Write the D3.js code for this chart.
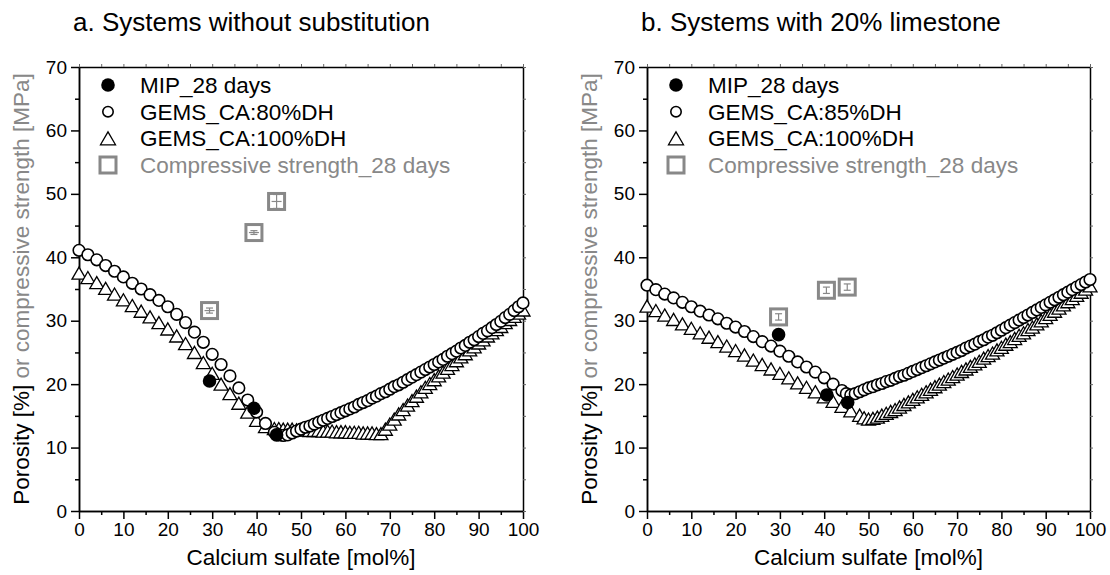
<!DOCTYPE html>
<html>
<head>
<meta charset="utf-8">
<title>Porosity and compressive strength vs calcium sulfate</title>
<script src="https://d3js.org/d3.v7.min.js"></script>
<style>
  body { margin: 0; background: #fff; }
  svg { font-family: "Liberation Sans", Arial, Helvetica, sans-serif; }
</style>
</head>
<body>
<div id="chart"></div>
<script>
// ---- data ----
const xMajorTicks = [0, 10, 20, 30, 40, 50, 60, 70, 80, 90, 100]
const xMinorTicks = [5, 15, 25, 35, 45, 55, 65, 75, 85, 95]
const yMajorTicks = [0, 10, 20, 30, 40, 50, 60, 70]
const yMinorTicks = [5, 15, 25, 35, 45, 55, 65]

const legendLabelsA = ['MIP_28 days', 'GEMS_CA:80%DH', 'GEMS_CA:100%DH', 'Compressive strength_28 days']
const legendLabelsB = ['MIP_28 days', 'GEMS_CA:85%DH', 'GEMS_CA:100%DH', 'Compressive strength_28 days']

// panel a: systems without substitution
const aMip = [[29.4, 20.5], [39.4, 16.2], [44.5, 12.0]]
const aStrength = [[29.4, 31.6], [39.4, 43.9], [44.5, 48.8]]
const aStrengthErr = [0.4, 0.3, 1.1]
const aCircles = [
  [0, 41.1], [2, 40.4], [4, 39.6], [6, 38.7], [8, 37.8], [10, 36.9], [12, 35.9], [14, 35.0],
  [16, 34.1], [18, 33.2], [20, 32.2], [22, 31.0], [24, 29.7], [26, 28.2], [28, 26.6], [30, 24.7],
  [32, 23.1], [34, 21.3], [36, 19.4], [38, 17.5], [40, 15.6], [42, 13.8], [44, 12.4],
  [45, 12.0], [46, 11.9], [47, 12.0], [48, 12.3], [49, 12.6], [50, 12.9], [51, 13.2], [52, 13.4],
  [53, 13.7], [54, 14.0], [55, 14.3], [56, 14.6], [57, 14.9], [58, 15.2], [59, 15.5], [60, 15.8],
  [61, 16.1], [62, 16.4], [63, 16.8], [64, 17.1], [65, 17.4], [66, 17.8], [67, 18.1], [68, 18.5],
  [69, 18.8], [70, 19.2], [71, 19.6], [72, 19.9], [73, 20.3], [74, 20.7], [75, 21.1], [76, 21.5],
  [77, 21.9], [78, 22.3], [79, 22.7], [80, 23.1], [81, 23.5], [82, 23.9], [83, 24.4], [84, 24.8],
  [85, 25.2], [86, 25.7], [87, 26.1], [88, 26.6], [89, 27.0], [90, 27.5], [91, 28.0], [92, 28.4],
  [93, 28.9], [94, 29.4], [95, 29.9], [96, 30.5], [97, 31.0], [98, 31.6], [99, 32.2], [100, 32.8]
]
const aTriangles = [
  [0, 37.5], [2, 36.8], [4, 36.0], [6, 35.1], [8, 34.2], [10, 33.3], [12, 32.4], [14, 31.5],
  [16, 30.6], [18, 29.7], [20, 28.7], [22, 27.6], [24, 26.4], [26, 25.0], [28, 23.4], [30, 21.7],
  [32, 20.0], [34, 18.5], [36, 17.0], [38, 15.6], [40, 14.3], [42, 13.3],
  [44, 13.0], [45, 13.0], [46, 12.9], [47, 12.9], [48, 12.9], [49, 12.8], [50, 12.8], [51, 12.8],
  [52, 12.7], [53, 12.7], [54, 12.7], [55, 12.6], [56, 12.6], [57, 12.6], [58, 12.5], [59, 12.5],
  [60, 12.5], [61, 12.4], [62, 12.4], [63, 12.4], [64, 12.3], [65, 12.3], [66, 12.3], [67, 12.2],
  [68, 12.2], [69, 12.9], [70, 13.7], [71, 14.5], [72, 15.3], [73, 16.0], [74, 16.7], [75, 17.4],
  [76, 18.1], [77, 18.8], [78, 19.5], [79, 20.1], [80, 20.7], [81, 21.3], [82, 21.9], [83, 22.5],
  [84, 23.1], [85, 23.7], [86, 24.3], [87, 24.8], [88, 25.4], [89, 25.9], [90, 26.5], [91, 27.0],
  [92, 27.6], [93, 28.1], [94, 28.6], [95, 29.1], [96, 29.7], [97, 30.2], [98, 30.7], [99, 31.2],
  [100, 31.7]
]

// panel b: systems with 20% limestone
const bMip = [[29.7, 27.8], [40.6, 18.3], [45.3, 17.1]]
const bStrength = [[29.7, 30.6], [40.5, 34.8], [45.2, 35.3]]
const bStrengthErr = [0.5, 0.5, 0.5]
const bCircles = [
  [0, 35.6], [2, 34.9], [4, 34.2], [6, 33.6], [8, 32.9], [10, 32.2], [12, 31.5], [14, 30.9],
  [16, 30.3], [18, 29.6], [20, 29.0], [22, 28.3], [24, 27.5], [26, 26.7], [28, 26.0], [30, 25.2],
  [32, 24.4], [34, 23.5], [36, 22.7], [38, 21.9], [40, 21.0], [42, 20.0], [44, 19.0],
  [45, 18.5], [46, 18.3], [47, 18.5], [48, 18.8], [49, 19.1], [50, 19.4], [51, 19.6], [52, 19.9],
  [53, 20.1], [54, 20.4], [55, 20.6], [56, 20.9], [57, 21.2], [58, 21.4], [59, 21.7], [60, 22.0],
  [61, 22.3], [62, 22.6], [63, 22.9], [64, 23.2], [65, 23.5], [66, 23.8], [67, 24.1], [68, 24.4],
  [69, 24.7], [70, 25.0], [71, 25.3], [72, 25.7], [73, 26.0], [74, 26.3], [75, 26.7], [76, 27.0],
  [77, 27.4], [78, 27.7], [79, 28.1], [80, 28.5], [81, 28.9], [82, 29.3], [83, 29.7], [84, 30.1],
  [85, 30.5], [86, 30.9], [87, 31.3], [88, 31.7], [89, 32.1], [90, 32.5], [91, 32.9], [92, 33.3],
  [93, 33.7], [94, 34.1], [95, 34.5], [96, 34.9], [97, 35.3], [98, 35.7], [99, 36.1], [100, 36.5]
]
const bTriangles = [
  [0, 32.3], [2, 31.6], [4, 30.9], [6, 30.2], [8, 29.5], [10, 28.8], [12, 28.1], [14, 27.4],
  [16, 26.7], [18, 26.0], [20, 25.3], [22, 24.6], [24, 23.8], [26, 23.1], [28, 22.4], [30, 21.7],
  [32, 21.0], [34, 20.2], [36, 19.5], [38, 18.8], [40, 18.0], [42, 17.3], [44, 16.5], [46, 15.8],
  [48, 15.1], [49, 14.7], [50, 14.5], [51, 14.6], [52, 14.8], [53, 15.1], [54, 15.4], [55, 15.7],
  [56, 16.0], [57, 16.4], [58, 16.8], [59, 17.2], [60, 17.6], [61, 18.0], [62, 18.4], [63, 18.8],
  [64, 19.2], [65, 19.6], [66, 20.0], [67, 20.4], [68, 20.8], [69, 21.2], [70, 21.6], [71, 22.0],
  [72, 22.4], [73, 22.8], [74, 23.2], [75, 23.6], [76, 24.1], [77, 24.5], [78, 24.9], [79, 25.4],
  [80, 25.8], [81, 26.3], [82, 26.7], [83, 27.2], [84, 27.7], [85, 28.1], [86, 28.6], [87, 29.0],
  [88, 29.5], [89, 30.0], [90, 30.5], [91, 31.0], [92, 31.5], [93, 32.0], [94, 32.5], [95, 33.0],
  [96, 33.5], [97, 34.0], [98, 34.5], [99, 35.0], [100, 35.5]
]

// ---- layout ----
const WIDTH = 1110
const HEIGHT = 575
const PLOT_TOP = 67
const PLOT_BOTTOM = 511
const GRAY = '#888888'

const panels = [
  { left: 79, right: 523, title: 'a. Systems without substitution', legend: legendLabelsA,
    mip: aMip, strength: aStrength, strengthErr: aStrengthErr, circles: aCircles, triangles: aTriangles, centerLine: true },
  { left: 647, right: 1090, title: 'b. Systems with 20% limestone', legend: legendLabelsB,
    mip: bMip, strength: bStrength, strengthErr: bStrengthErr, circles: bCircles, triangles: bTriangles, centerLine: false }
]

const svg = d3.select('#chart').append('svg')
  .attr('width', WIDTH)
  .attr('height', HEIGHT)

svg.append('rect').attr('width', WIDTH).attr('height', HEIGHT).attr('fill', '#fff')

panels.forEach(drawPanel)

function trianglePath(cx, cy, s) {
  const h = s * 0.866
  return `M${cx},${cy - h / 2}L${cx + s / 2},${cy + h / 2}L${cx - s / 2},${cy + h / 2}Z`
}

function styleAxis(g) {
  g.select('.domain').attr('stroke', '#000').attr('stroke-width', 1.5)
  g.selectAll('.tick line').attr('stroke', '#000').attr('stroke-width', 1.5)
  g.selectAll('.tick text').attr('fill', '#000').style('font-size', '19px')
}

function drawPanel(p) {
  const x = d3.scaleLinear().domain([0, 100]).range([p.left, p.right])
  const y = d3.scaleLinear().domain([0, 70]).range([PLOT_BOTTOM, PLOT_TOP])
  const g = svg.append('g')

  // bottom axis
  g.append('g').attr('transform', `translate(0,${PLOT_BOTTOM})`)
    .call(d3.axisBottom(x).tickValues(xMinorTicks).tickSize(4).tickSizeOuter(0).tickFormat(''))
    .call(styleAxis)
  g.append('g').attr('transform', `translate(0,${PLOT_BOTTOM})`)
    .call(d3.axisBottom(x).tickValues(xMajorTicks).tickSize(8).tickSizeOuter(0).tickPadding(4).tickFormat(d3.format('d')))
    .call(styleAxis)

  // left axis
  g.append('g').attr('transform', `translate(${p.left},0)`)
    .call(d3.axisLeft(y).tickValues(yMinorTicks).tickSize(4).tickSizeOuter(0).tickFormat(''))
    .call(styleAxis)
  g.append('g').attr('transform', `translate(${p.left},0)`)
    .call(d3.axisLeft(y).tickValues(yMajorTicks).tickSize(8).tickSizeOuter(0).tickPadding(4).tickFormat(d3.format('d')))
    .call(styleAxis)

  // top and right mirror axes, small outward ticks
  g.append('g').attr('transform', `translate(0,${PLOT_TOP})`)
    .call(d3.axisTop(x).tickValues(xMajorTicks.concat(xMinorTicks)).tickSize(3).tickSizeOuter(0).tickFormat(''))
    .call(styleAxis)
    .call(a => a.selectAll('.tick line').attr('stroke-width', 1).attr('stroke', '#666'))
  g.append('g').attr('transform', `translate(${p.right},0)`)
    .call(d3.axisRight(y).tickValues(yMajorTicks.concat(yMinorTicks)).tickSize(3).tickSizeOuter(0).tickFormat(''))
    .call(styleAxis)
    .call(a => a.selectAll('.tick line').attr('stroke-width', 1).attr('stroke', '#666'))

  // title
  g.append('text')
    .attr('x', p.left - 6)
    .attr('y', 31)
    .style('font-size', '26px')
    .attr('fill', '#000')
    .text(p.title)

  // axis titles
  g.append('text')
    .attr('x', (p.left + p.right) / 2)
    .attr('y', 565)
    .attr('text-anchor', 'middle')
    .style('font-size', '22.5px')
    .attr('fill', '#000')
    .text('Calcium sulfate [mol%]')

  const yLabel = g.append('text')
    .attr('transform', `translate(${p.left - 50},${(PLOT_TOP + PLOT_BOTTOM) / 2}) rotate(-90)`)
    .attr('text-anchor', 'middle')
    .style('font-size', '22.5px')
  yLabel.append('tspan').attr('fill', '#000').text('Porosity [%]')
  yLabel.append('tspan').attr('fill', GRAY).text(' or compressive strength [MPa]')

  // GEMS 100%DH triangles
  g.append('g').selectAll('path')
    .data(p.triangles)
    .join('path')
    .attr('d', d => trianglePath(x(d[0]), y(d[1]), 14))
    .attr('fill', '#fff')
    .attr('stroke', '#000')
    .attr('stroke-width', 1.3)

  // GEMS partial DH circles
  g.append('g').selectAll('circle')
    .data(p.circles)
    .join('circle')
    .attr('cx', d => x(d[0]))
    .attr('cy', d => y(d[1]))
    .attr('r', 5.8)
    .attr('fill', '#fff')
    .attr('stroke', '#000')
    .attr('stroke-width', 1.6)

  // MIP
  g.append('g').selectAll('circle')
    .data(p.mip)
    .join('circle')
    .attr('cx', d => x(d[0]))
    .attr('cy', d => y(d[1]))
    .attr('r', 6.8)
    .attr('fill', '#000')

  // compressive strength squares with error bars
  const sq = g.append('g').selectAll('g')
    .data(p.strength)
    .join('g')
  sq.append('rect')
    .attr('x', d => x(d[0]) - 8)
    .attr('y', d => y(d[1]) - 8)
    .attr('width', 16)
    .attr('height', 16)
    .attr('fill', '#fff')
    .attr('stroke', GRAY)
    .attr('stroke-width', 3)
  sq.each(function (d, i) {
    const e = p.strengthErr[i]
    const s = d3.select(this)
    const cx = x(d[0])
    s.append('line')
      .attr('x1', cx).attr('x2', cx)
      .attr('y1', y(d[1] - e)).attr('y2', y(d[1] + e))
      .attr('stroke', GRAY).attr('stroke-width', 1.2)
    ;[d[1] - e, d[1] + e].forEach(v => {
      s.append('line')
        .attr('x1', cx - 3.5).attr('x2', cx + 3.5)
        .attr('y1', y(v)).attr('y2', y(v))
        .attr('stroke', GRAY).attr('stroke-width', 1.2)
    })
    if (p.centerLine) {
      s.append('line')
        .attr('x1', cx - 5).attr('x2', cx + 5)
        .attr('y1', y(d[1])).attr('y2', y(d[1]))
        .attr('stroke', GRAY).attr('stroke-width', 1.2)
    }
  })

  // legend
  const lx = p.left + 29
  const tx = p.left + 61
  const rows = [85, 111.7, 138.3, 165]
  g.append('circle').attr('cx', lx).attr('cy', rows[0]).attr('r', 6.8).attr('fill', '#000')
  g.append('circle').attr('cx', lx).attr('cy', rows[1]).attr('r', 5.2)
    .attr('fill', '#fff').attr('stroke', '#000').attr('stroke-width', 1.6)
  g.append('path').attr('d', trianglePath(lx, rows[2], 15))
    .attr('fill', '#fff').attr('stroke', '#000').attr('stroke-width', 1.3)
  g.append('rect').attr('x', lx - 8).attr('y', rows[3] - 8).attr('width', 16).attr('height', 16)
    .attr('fill', '#fff').attr('stroke', GRAY).attr('stroke-width', 3)

  p.legend.forEach((label, i) => {
    g.append('text')
      .attr('x', tx)
      .attr('y', rows[i])
      .attr('dy', '0.36em')
      .style('font-size', '22.5px')
      .attr('fill', i === 3 ? GRAY : '#000')
      .text(label)
  })
}
</script>
</body>
</html>
